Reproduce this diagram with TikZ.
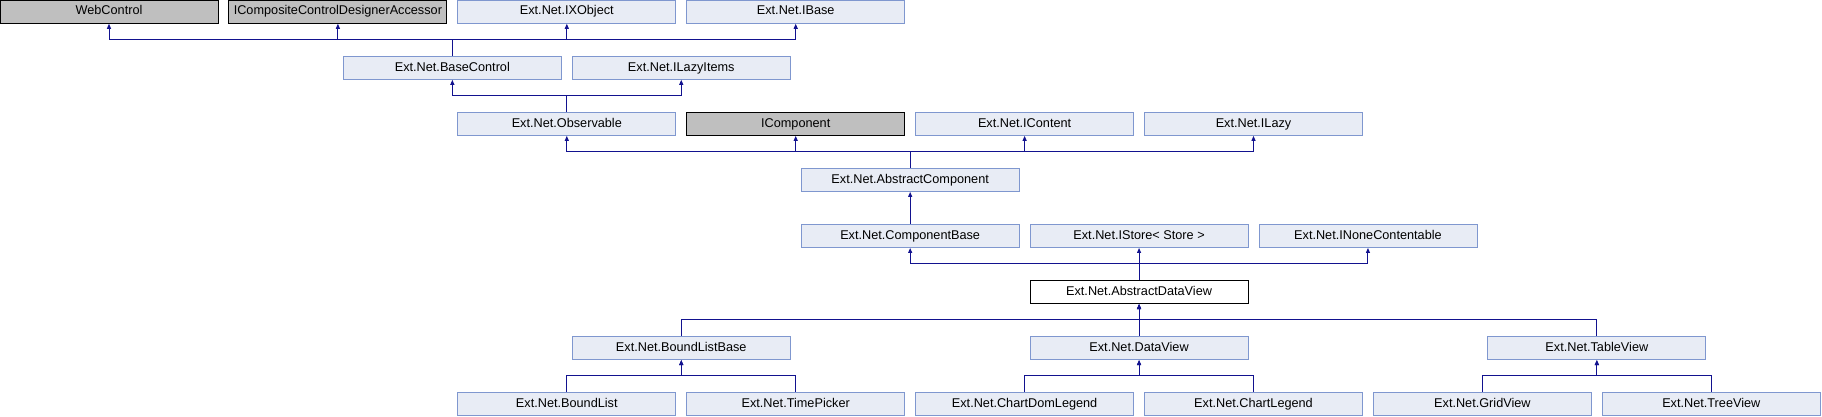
\documentclass[tikz,border=0pt]{standalone}
\usepackage{fontspec}
\setmainfont{Liberation Sans}
\usetikzlibrary{arrows.meta}
\definecolor{boxFill}{HTML}{E8ECF5}
\definecolor{boxEdge}{HTML}{7F97CF}
\definecolor{extFill}{HTML}{BFBFBF}
\definecolor{edgeCol}{HTML}{12128F}
\newcommand{\colw}{228.9}
\newcommand{\rowh}{56.05}
\tikzset{
  cls/.style={draw=boxEdge, fill=boxFill, line width=0.9pt, minimum width=218pt, minimum height=23.3pt,
              inner sep=0pt, text height=9.2pt, text depth=2.6pt, font=\fontsize{12.7}{14}\selectfont},
  extcls/.style={cls, draw=black, fill=extFill},   % external / undocumented
  curcls/.style={cls, draw=black, fill=white},     % the class itself
  inh/.style={edgeCol, line width=1pt, -{Triangle[length=5pt,width=4pt]}},
}
\newcommand{\classbox}[5]{\node[#1] (#2) at ({#3*\colw+109},{-#4*\rowh-11.65}) {#5};}

\begin{document}
\begin{tikzpicture}[x=1pt,y=1pt]
  \useasboundingbox (0,0) rectangle (1822,-416);
  % row 0
  \classbox{extcls}{webcontrol}{0}{0}{WebControl}
  \classbox{extcls}{icomposite}{1}{0}{ICompositeControlDesignerAccessor}
  \classbox{cls}{ixobject}{2}{0}{Ext.Net.IXObject}
  \classbox{cls}{ibase}{3}{0}{Ext.Net.IBase}
  % row 1
  \classbox{cls}{basecontrol}{1.5}{1}{Ext.Net.BaseControl}
  \classbox{cls}{ilazyitems}{2.5}{1}{Ext.Net.ILazyItems}
  % row 2
  \classbox{cls}{observable}{2}{2}{Ext.Net.Observable}
  \classbox{extcls}{icomponent}{3}{2}{IComponent}
  \classbox{cls}{icontent}{4}{2}{Ext.Net.IContent}
  \classbox{cls}{ilazy}{5}{2}{Ext.Net.ILazy}
  % row 3
  \classbox{cls}{abscomponent}{3.5}{3}{Ext.Net.AbstractComponent}
  % row 4
  \classbox{cls}{compbase}{3.5}{4}{Ext.Net.ComponentBase}
  \classbox{cls}{istore}{4.5}{4}{Ext.Net.IStore< Store >}
  \classbox{cls}{inonecont}{5.5}{4}{Ext.Net.INoneContentable}
  % row 5
  \classbox{curcls}{absdataview}{4.5}{5}{Ext.Net.AbstractDataView}
  % row 6
  \classbox{cls}{boundlistbase}{2.5}{6}{Ext.Net.BoundListBase}
  \classbox{cls}{dataview}{4.5}{6}{Ext.Net.DataView}
  \classbox{cls}{tableview}{6.5}{6}{Ext.Net.TableView}
  % row 7
  \classbox{cls}{boundlist}{2}{7}{Ext.Net.BoundList}
  \classbox{cls}{timepicker}{3}{7}{Ext.Net.TimePicker}
  \classbox{cls}{chartdomlegend}{4}{7}{Ext.Net.ChartDomLegend}
  \classbox{cls}{chartlegend}{5}{7}{Ext.Net.ChartLegend}
  \classbox{cls}{gridview}{6}{7}{Ext.Net.GridView}
  \classbox{cls}{treeview}{7}{7}{Ext.Net.TreeView}

  % inheritance edges, child/parent
  \foreach \c/\p in {basecontrol/webcontrol, basecontrol/icomposite, basecontrol/ixobject, basecontrol/ibase,
                     observable/basecontrol, observable/ilazyitems,
                     abscomponent/observable, abscomponent/icomponent, abscomponent/icontent, abscomponent/ilazy,
                     compbase/abscomponent,
                     absdataview/compbase, absdataview/istore, absdataview/inonecont,
                     boundlistbase/absdataview, dataview/absdataview, tableview/absdataview,
                     boundlist/boundlistbase, timepicker/boundlistbase,
                     chartdomlegend/dataview, chartlegend/dataview,
                     gridview/tableview, treeview/tableview}
    {\draw[inh] (\c.north) -- ++(0,16) -| (\p.south);}
\end{tikzpicture}
\end{document}
